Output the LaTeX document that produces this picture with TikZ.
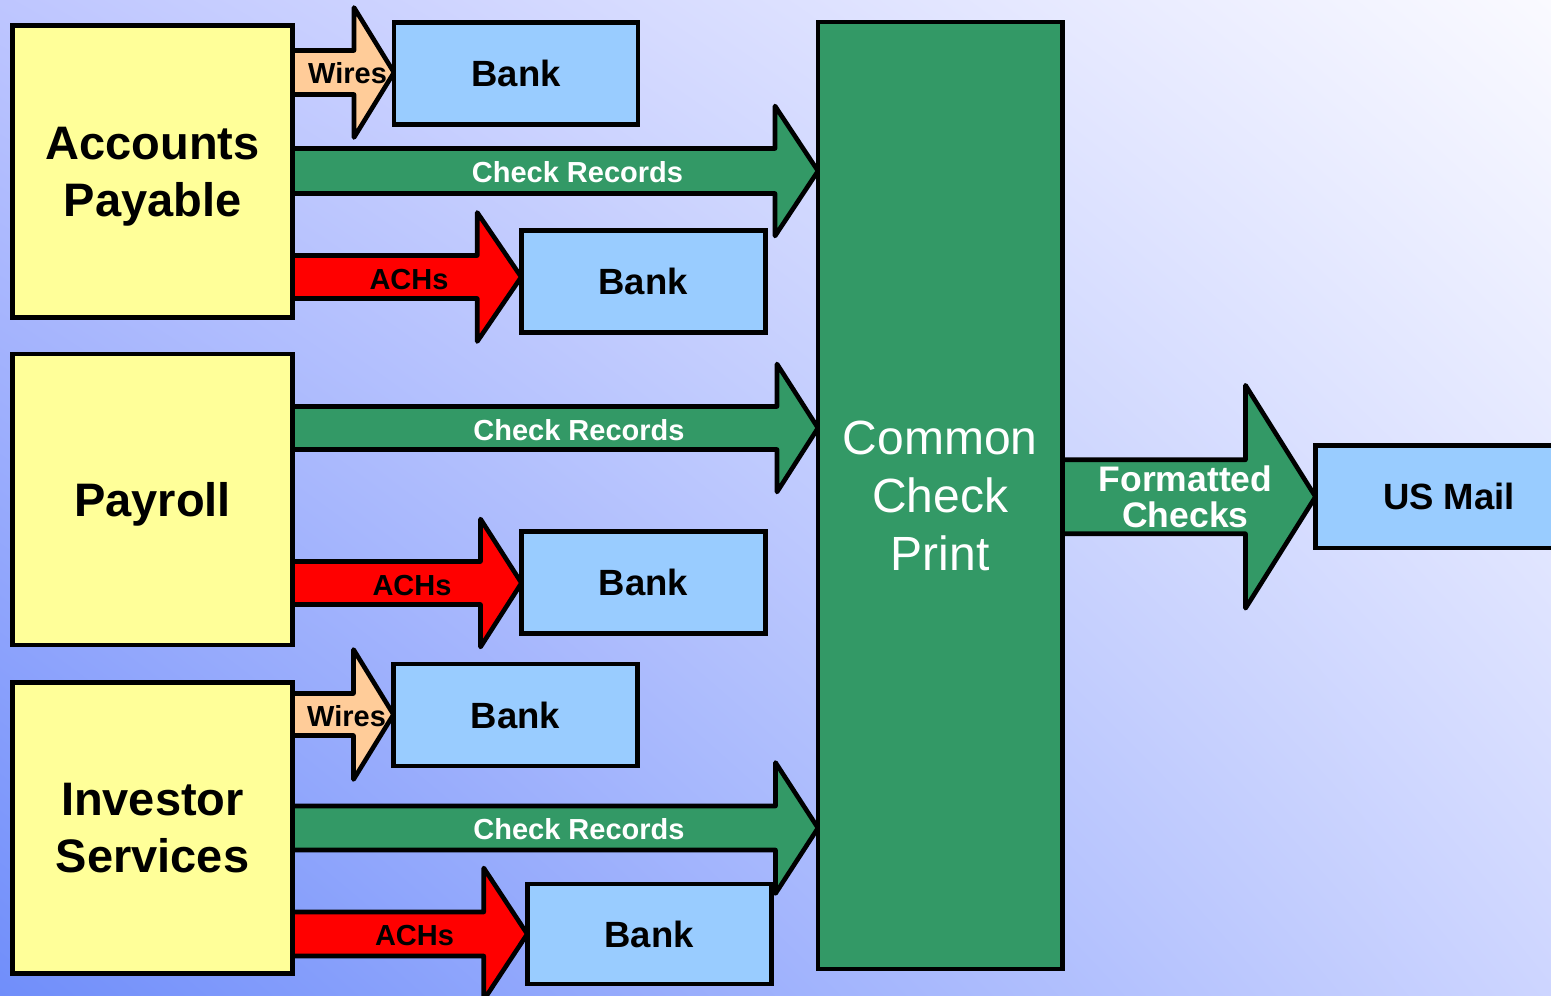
\documentclass[tikz,border=0pt]{standalone}
\usepackage{fontspec}
\setmainfont{Liberation Sans}
\usetikzlibrary{calc,shadings}

\pgfdeclarelayer{backdrop}
\pgfdeclarelayer{flows}
\pgfsetlayers{backdrop,flows,main}

\definecolor{deptyellow}{HTML}{FFFF99}
\definecolor{bankblue}{HTML}{99CCFF}
\definecolor{printgreen}{HTML}{339966}
\definecolor{achred}{HTML}{FF0000}
\definecolor{wirepeach}{HTML}{FFCC99}
\definecolor{bgLL}{RGB}{112,142,250}
\definecolor{bgUL}{RGB}{190,198,255}
\definecolor{bgUR}{RGB}{250,250,255}
\definecolor{bgLR}{RGB}{205,213,255}

% Block arrow from the east side of #2 to the west side of #3.
% #1 style, #4 centre line y, #5 shaft half-width, #6 head half-width, #7 head length
\newcommand\blockarrow[7]{%
  \draw[#1] let \p1=(#2.east), \p2=(#3.west), \p3=(0,#4) in
    (\x1,\y3+#5pt) -- (\x2-#7pt,\y3+#5pt) -- (\x2-#7pt,\y3+#6pt) -- (\x2,\y3)
    -- (\x2-#7pt,\y3-#6pt) -- (\x2-#7pt,\y3-#5pt) -- (\x1,\y3-#5pt) -- cycle;}

\begin{document}
\begin{tikzpicture}[x=1pt,y=-1pt,
  outline/.style={draw=black, line width=4.6pt},
  box/.style={outline, rectangle, inner sep=0pt, outer sep=0pt,
    text depth=0pt, align=center},
  dept/.style={box, fill=deptyellow, minimum width=280pt, minimum height=291pt,
    font=\bfseries\fontsize{47}{57}\selectfont},
  bank/.style={box, fill=bankblue, minimum width=244pt, minimum height=102pt,
    font=\bfseries\fontsize{36.5}{36}\selectfont},
  printer/.style={box, fill=printgreen, text=white,
    font=\fontsize{48}{58}\selectfont},
  wireflow/.style={outline, fill=wirepeach, line join=round},
  checkflow/.style={outline, fill=printgreen, line join=round},
  achflow/.style={outline, fill=achred, line join=round},
  flowlabel/.style={inner sep=0pt, anchor=base,
    font=\bfseries\fontsize{29}{29}\selectfont},
  checklabel/.style={flowlabel, text=white}]

\useasboundingbox (0,0) rectangle (1551,996);
\begin{pgfonlayer}{backdrop}
  \shade[upper left=bgUL, upper right=bgUR, lower left=bgLL, lower right=bgLR]
    (0,0) rectangle (1551,996);
\end{pgfonlayer}

% Departments
\node[dept, minimum height=292pt] (ap) at (152.5,171.5) {Accounts\\Payable};
\node[dept] (pr) at (152.5,499.5) {Payroll};
\node[dept] (is) at (152.5,828) {Investor\\Services};

% Banks
\node[bank] (b1) at (516,73.25) {Bank};
\node[bank] (b2) at (643.25,281.75) {Bank};
\node[bank] (b3) at (643.5,582.5) {Bank};
\node[bank] (b4) at (515.5,715) {Bank};
\node[bank, minimum height=100pt] (b5) at (649.25,934) {Bank};

% Central print and mail
\node[printer, minimum width=244.5pt, minimum height=947pt] (ccp)
  at (940.25,495.5) {Common\\Check\\Print};
\node[bank, minimum width=267pt, minimum height=102.5pt] (mail)
  at (1449,496.75) {US Mail};

% Flows
\begin{pgfonlayer}{flows}
  \blockarrow{wireflow}{ap}{b1}{72.5}{22}{65}{40}
  \blockarrow{checkflow}{ap}{ccp}{171}{22.5}{65}{43}
  \blockarrow{achflow}{ap}{b2}{277}{21.5}{64.5}{44}
  \blockarrow{checkflow}{pr}{ccp}{428}{21.5}{64}{41}
  \blockarrow{achflow}{pr}{b3}{583}{21.5}{64}{41}
  \blockarrow{wireflow}{is}{b4}{714.5}{21}{65}{40}
  \blockarrow{checkflow}{is}{ccp}{828}{22}{65.5}{42.5}
  \blockarrow{achflow}{is}{b5}{934}{22}{66}{43.5}
  \blockarrow{checkflow}{ccp}{mail}{496.75}{37}{111.5}{70}
\end{pgfonlayer}

% Flow labels
\node[flowlabel] (w1) at (347.5,83.3) {Wires};
\node[checklabel] (c1) at (577.5,182.7) {Check Records};
\node[flowlabel] (a1) at (409,289.3) {ACHs};
\node[checklabel] (c2) at (579,440) {Check Records};
\node[flowlabel] (a2) at (412,595) {ACHs};
\node[flowlabel] (w2) at (346.6,726.7) {Wires};
\node[checklabel] (c3) at (579,839.5) {Check Records};
\node[flowlabel] (a3) at (414.5,945) {ACHs};
\node[inner sep=0pt, align=center, text depth=0pt, text=white,
  font=\bfseries\fontsize{35.5}{36}\selectfont] (fc) at (1185.5,497)
  {Formatted\\Checks};
\end{tikzpicture}
\end{document}
